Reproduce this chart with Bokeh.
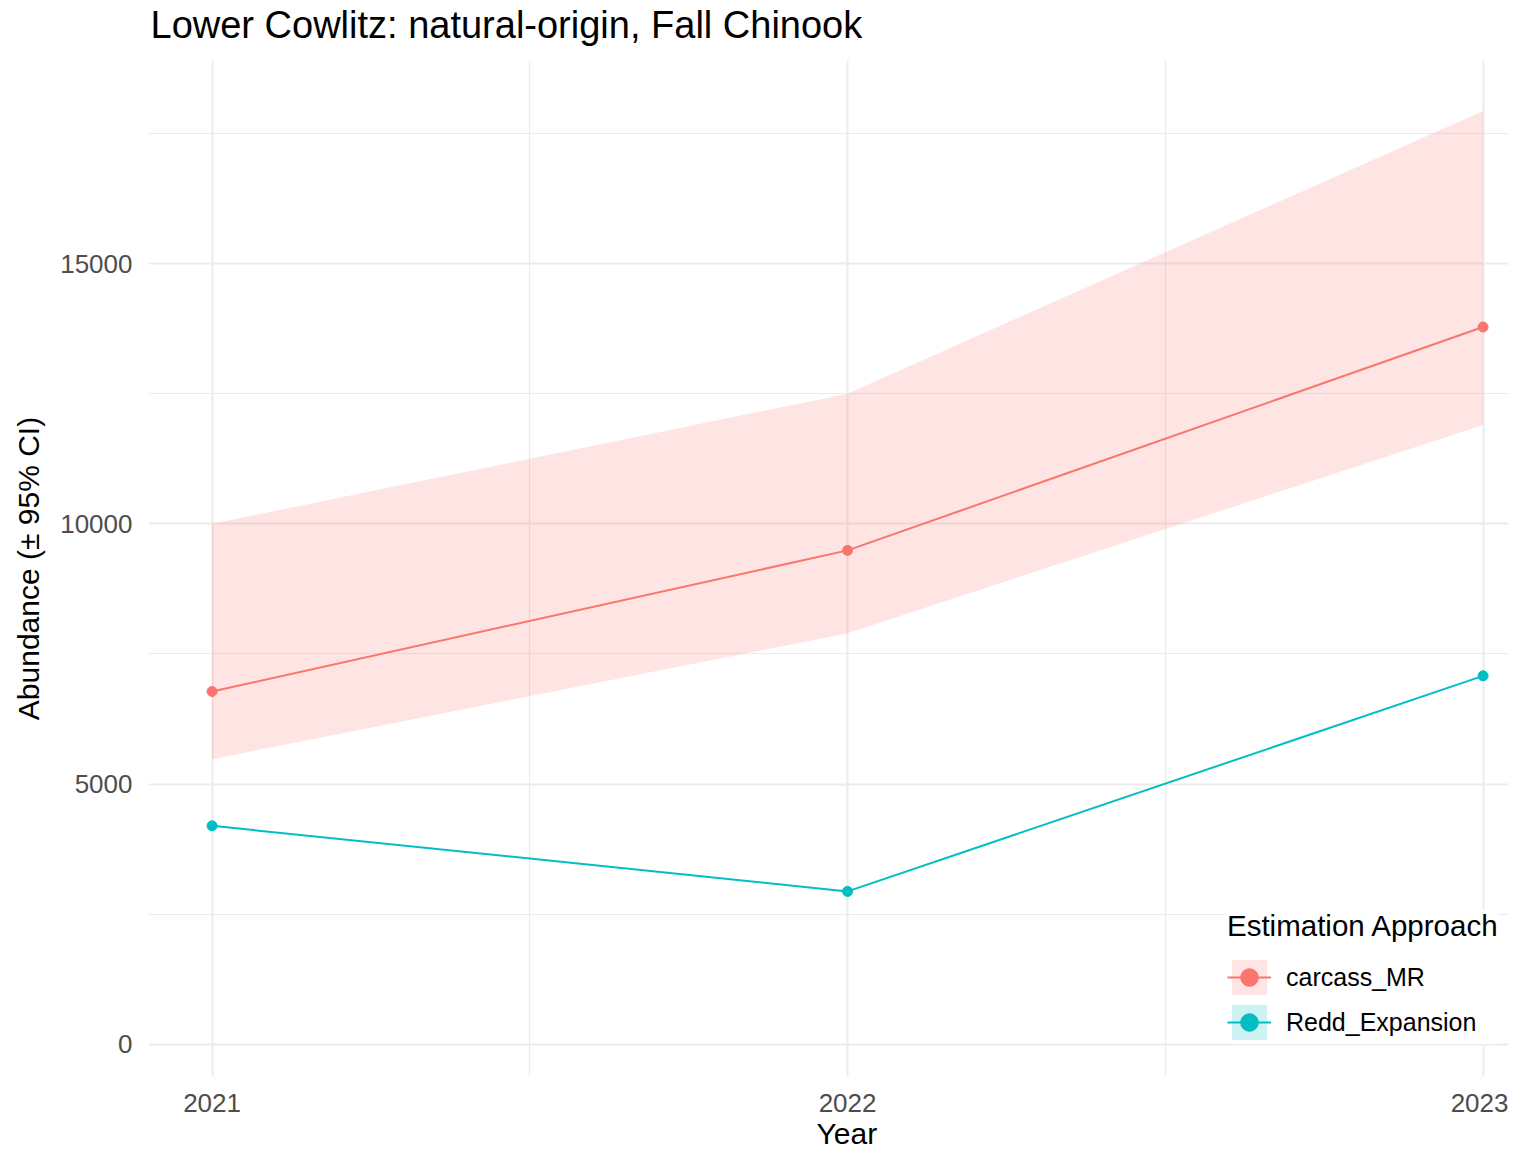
from bokeh.plotting import figure
from bokeh.models import Range1d, FixedTicker, Legend, LegendItem, ColumnDataSource, Title
from bokeh.embed import file_html
from bokeh.resources import INLINE

# ---- data ----
years = [2021, 2022, 2023]
carcass_mr = [6780, 9490, 13780]
carcass_lo = [5480, 7900, 11900]
carcass_hi = [10000, 12500, 17930]
redd_exp = [4200, 2940, 7080]

series_names = ["carcass_MR", "Redd_Expansion"]
series_colors = ["#F8766D", "#00BFC4"]
y_ticks = [0, 5000, 10000, 15000]
y_minor = [2500, 7500, 12500, 17500]
x_ticks = [2021, 2022, 2023]
x_minor = [2021.5, 2022.5]
chart_title = "Lower Cowlitz: natural-origin, Fall Chinook"

FONT = "Liberation Sans"

p = figure(width=1508, height=1150, output_backend="svg", toolbar_location=None,
           x_range=Range1d(2020.9, 2023.04), y_range=Range1d(-615, 18899),
           min_border_left=148, min_border_right=0, min_border_top=60, min_border_bottom=74)
p.outline_line_color = None
p.background_fill_color = "white"
p.border_fill_color = "white"

# small blank spacer between frame and title, so the title sits higher
spacer = Title(text=" ", text_font_size="1px", standoff=12)
p.add_layout(spacer, "above")

p.title.text = chart_title
p.title.text_font = FONT
p.title.text_font_size = "38px"
p.title.text_font_style = "normal"
p.title.text_color = "black"
p.title.align = "left"
p.title.offset = 2
p.title.standoff = 0

# axes
for ax in (p.xaxis[0], p.yaxis[0]):
    ax.axis_line_color = None
    ax.major_tick_line_color = None
    ax.minor_tick_line_color = None
    ax.major_label_text_font = FONT
    ax.major_label_text_font_size = "26px"
    ax.major_label_text_color = "#4D4D4D"
    ax.axis_label_text_font = FONT
    ax.axis_label_text_font_size = "30px"
    ax.axis_label_text_font_style = "normal"
    ax.axis_label_text_color = "black"

p.xaxis.ticker = FixedTicker(ticks=x_ticks, minor_ticks=x_minor)
p.yaxis.ticker = FixedTicker(ticks=y_ticks, minor_ticks=y_minor)
p.yaxis.axis_label = "Abundance (\u00b1 95% CI)"
p.xaxis.major_label_standoff = 11
p.yaxis.major_label_standoff = 10
p.yaxis.axis_label_standoff = 12

# x axis title, centred on the (wider, cropped) ggplot panel
xlab = Title(text="Year", align="left", offset=668, text_font=FONT,
             text_font_size="30px", text_font_style="normal", text_color="black", standoff=0)
p.add_layout(xlab, "below")

for g in (p.xgrid[0], p.ygrid[0]):
    g.grid_line_color = "#EBEBEB"
    g.grid_line_width = 2
    g.minor_grid_line_color = "#EBEBEB"
    g.minor_grid_line_width = 1.2

# carcass ribbon + line + points
src_c = ColumnDataSource(dict(x=years, y=carcass_mr, lo=carcass_lo, hi=carcass_hi))
band_c = p.varea(x="x", y1="lo", y2="hi", source=src_c, fill_color=series_colors[0], fill_alpha=0.2)
line_c = p.line(x="x", y="y", source=src_c, line_color=series_colors[0], line_width=2)
pts_c = p.scatter(x="x", y="y", source=src_c, color=series_colors[0], size=10)

# redd (no CI -> zero-height ribbon for the legend key)
src_r = ColumnDataSource(dict(x=years, y=redd_exp))
band_r = p.varea(x="x", y1="y", y2="y", source=src_r, fill_color=series_colors[1], fill_alpha=0.2)
line_r = p.line(x="x", y="y", source=src_r, line_color=series_colors[1], line_width=2)
pts_r = p.scatter(x="x", y="y", source=src_r, color=series_colors[1], size=10)

legend = Legend(items=[
    LegendItem(label=series_names[0], renderers=[band_c, line_c, pts_c]),
    LegendItem(label=series_names[1], renderers=[band_r, line_r, pts_r]),
], location=(1079, 32))
legend.title = "Estimation Approach"
legend.title_text_font = FONT
legend.title_text_font_size = "29.5px"
legend.title_text_font_style = "normal"
legend.title_text_color = "black"
legend.title_standoff = 12
legend.label_text_font = FONT
legend.label_text_font_size = "25px"
legend.label_text_color = "black"
legend.glyph_width = 44
legend.glyph_height = 44
legend.spacing = 1
legend.label_standoff = 15
legend.padding = 30
legend.margin = 0
legend.border_line_color = None
legend.background_fill_color = "white"
legend.background_fill_alpha = 1.0
p.add_layout(legend, "center")

open("out.html", "w").write(file_html(p, INLINE))
